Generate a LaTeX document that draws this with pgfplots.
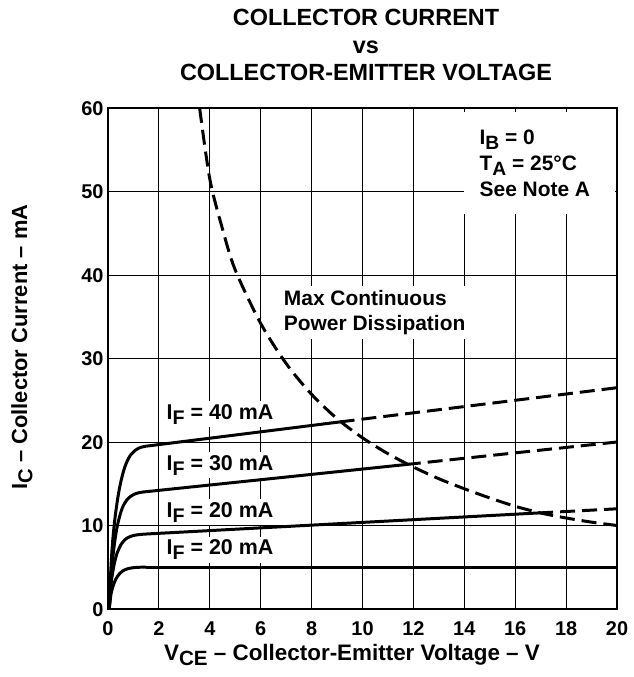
\documentclass[border=0pt]{standalone}
\usepackage{pgfplots}
\pgfplotsset{compat=1.18}
\usepackage{fontspec}
\setmainfont{Liberation Sans}
\newcommand{\sub}[1]{\raisebox{-0.45ex}{\scalebox{0.92}{#1}}}
\begin{document}
\begin{tikzpicture}[x=1bp,y=1bp]
\useasboundingbox (-108,-68) rectangle (526,609);
\begin{axis}[
  at={(0,0)}, anchor=south west,
  scale only axis, width=509bp, height=501bp,
  xmin=0, xmax=20, ymin=0, ymax=60,
  xtick={0,2,...,20}, ytick={0,10,...,60},
  grid=major, major grid style={black, line width=0.9pt},
  axis line style={line width=2.4pt},
  major tick length=0pt,
  tick label style={font=\bfseries\fontsize{20}{20}\selectfont, text height=14.3bp, text depth=0bp},
  /pgf/number format/assume math mode=true,
  xticklabel style={yshift=-8.5bp},
  yticklabel style={xshift=-1bp},
]
% label boxes (drawn before curves, hide grid)
\fill[white] (axis cs:14.0,47.3) rectangle (axis cs:19.93,59.5);
\node[fill=white, inner sep=3pt, font=\bfseries\fontsize{21.5}{21.5}\selectfont] at (axis cs:4.4,23.3) {I\sub{F} = 40 mA};
\node[fill=white, inner sep=3pt, font=\bfseries\fontsize{21.5}{21.5}\selectfont] at (axis cs:4.4,17.2) {I\sub{F} = 30 mA};
\node[fill=white, inner sep=3pt, font=\bfseries\fontsize{21.5}{21.5}\selectfont] at (axis cs:4.4,11.6) {I\sub{F} = 20 mA};
\node[fill=white, inner sep=3pt, font=\bfseries\fontsize{21.5}{21.5}\selectfont] at (axis cs:4.4,7.1) {I\sub{F} = 20 mA};
\node[fill=white, inner sep=4pt, align=left, anchor=west, font=\bfseries\fontsize{21}{25}\selectfont] at (axis cs:6.75,35.5) {Max Continuous\\Power Dissipation};
\node[inner sep=5pt, align=left, anchor=north west, font=\bfseries\fontsize{21}{26.5}\selectfont] at (axis cs:14.4,58.05) {I\sub{B} = 0\\T\sub{A} = 25\textdegree C\\See Note A};
% max power dissipation curve
\addplot[black, line width=3pt, dash pattern=on 15bp off 7bp, smooth] coordinates {
 (3.6,60) (4.0,51.5) (4.5,45.5) (5,40.6) (6,34.2) (7,29.4) (8,25.7) (9,22.8) (10,20.5)
 (11,18.6) (12,17.0) (13,15.6) (14,14.4) (15,13.3) (16,12.3) (17,11.5) (18,10.9) (19,10.4) (20,10.0)};
% IF = 40 mA
\addplot[black, line width=3pt, smooth, tension=0.55] coordinates {
 (0.05,0) (0.1,4) (0.18,8) (0.3,11.5) (0.46,14.6) (0.66,17.0) (0.9,18.5) (1.2,19.25) (1.5,19.5)};
\addplot[black, line width=3pt] coordinates {(1.5,19.5) (9.1,22.4)};
\addplot[black, line width=3pt, dash pattern=on 15bp off 7bp] coordinates {(9.1,22.4) (20,26.5)};
% IF = 30 mA
\addplot[black, line width=3pt, smooth, tension=0.55] coordinates {
 (0.05,0) (0.12,4) (0.24,7.5) (0.37,10) (0.55,12) (0.75,13.1) (1.0,13.7) (1.25,13.95) (1.5,14.05)};
\addplot[black, line width=3pt] coordinates {(1.5,14.05) (11.7,17.3)};
\addplot[black, line width=3pt, dash pattern=on 15bp off 7bp] coordinates {(11.7,17.3) (20,20.0)};
% IF = 20 mA (upper)
\addplot[black, line width=3pt, smooth, tension=0.55] coordinates {
 (0.05,0) (0.12,3) (0.24,5.3) (0.37,6.8) (0.55,7.9) (0.75,8.5) (1.0,8.8) (1.25,8.92) (1.5,8.98)};
\addplot[black, line width=3pt] coordinates {(1.5,8.98) (16.9,11.5)};
\addplot[black, line width=3pt, dash pattern=on 15bp off 7bp] coordinates {(16.9,11.5) (20,12.0)};
% IF = 20 mA (lower)
\addplot[black, line width=3pt, smooth, tension=0.55] coordinates {
 (0.05,0) (0.12,1.8) (0.24,3.1) (0.37,3.9) (0.55,4.5) (0.75,4.8) (1.0,4.95) (1.25,5.0) (1.5,5.0)};
\addplot[black, line width=3pt] coordinates {(1.5,5.0) (20,5.0)};
\end{axis}
\node[font=\bfseries\fontsize{23.5}{27.5}\selectfont, align=center] at (258,564) {COLLECTOR CURRENT\\vs\\COLLECTOR-EMITTER VOLTAGE};
\node[font=\bfseries\fontsize{22.5}{22.5}\selectfont] at (244,-46) {V\sub{CE} -- Collector-Emitter Voltage -- V};
\node[font=\bfseries\fontsize{22}{22}\selectfont, rotate=90] at (-86,262) {I\sub{C} -- Collector Current -- mA};
\end{tikzpicture}
\end{document}
